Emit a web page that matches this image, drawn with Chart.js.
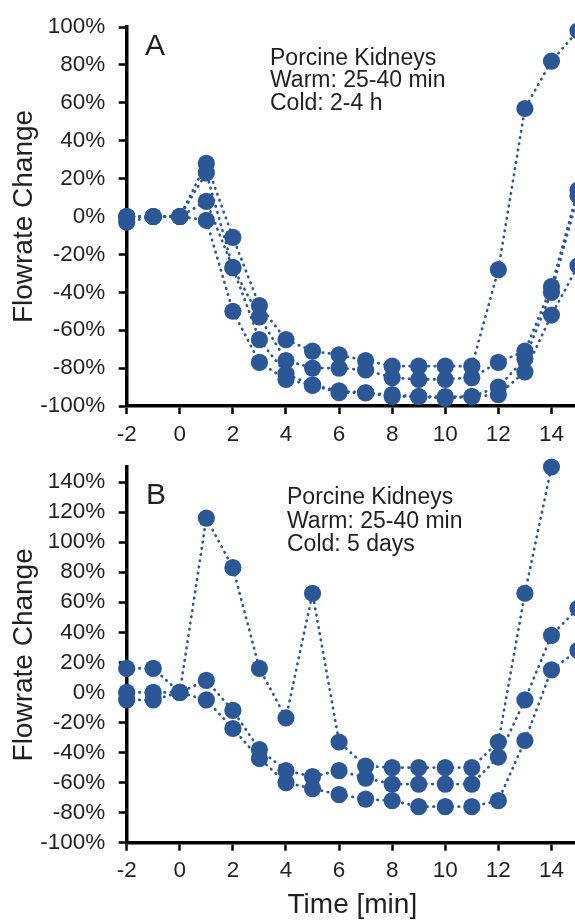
<!DOCTYPE html>
<html>
<head>
<meta charset="utf-8">
<script src="https://cdn.jsdelivr.net/npm/chart.js@4"></script>
<style>
  html, body { margin: 0; padding: 0; background: #fff; overflow: hidden; }
  body { width: 575px; height: 922px; position: relative; }
  canvas { position: absolute; left: 0; }
  #chartA { top: 0; }
  #chartB { top: 440px; }
</style>
</head>
<body>
<canvas id="chartA" width="590" height="460"></canvas>
<canvas id="chartB" width="590" height="482"></canvas>
<script>
  // time points (min) shared by both panels
  const TIME = [-2, -1, 0, 1, 2, 3, 4, 5, 6, 7, 8, 9, 10, 11, 12, 13, 14, 15];
  const TIME_TICKS = [-2, 0, 2, 4, 6, 8, 10, 12, 14];

  // panel A: warm 25-40 min, cold 2-4 h (flow change in %)
  const A_KIDNEY_1 = [0, 0, 0, 28, -11, -47, -65, -71, -73, -76, -79, -79, -79, -79, -28, 57, 82, 98];
  const A_KIDNEY_2 = [0, 0, 0, 23, -27, -53, -76, -80, -80, -81, -85, -86, -86, -85, -77, -71, -37, 14];
  const A_KIDNEY_3 = [0, 0, 0, 8, -27, -65, -83, -89, -92, -93, -94, -95, -95, -95, -90, -75, -40, 11];
  const A_KIDNEY_4 = [-3, 0, 0, -2, -50, -77, -86, -89, -93, -93, -95, -95, -96, -95, -94, -82, -52, -26];
  const A_Y_TICKS = [-100, -80, -60, -40, -20, 0, 20, 40, 60, 80, 100];

  // panel B: warm 25-40 min, cold 5 days
  const B_KIDNEY_1 = [16, 16, 0, 116, 83, 16, -17, 66, -33, -49, -50, -50, -50, -50, -33, 66, 150, null];
  const B_KIDNEY_2 = [0, 0, 0, 8, -12, -38, -52, -56, -52, -57, -61, -61, -61, -61, -43, -5, 38, 56];
  const B_KIDNEY_3 = [-5, -5, 0, -5, -24, -44, -60, -64, -68, -71, -72, -76, -76, -76, -72, -32, 15, 28];
  const B_Y_TICKS = [-100, -80, -60, -40, -20, 0, 20, 40, 60, 80, 100, 120, 140];

  const LABEL_A = 'A';
  const LABEL_B = 'B';
  const NOTE_A = ['Porcine Kidneys', 'Warm: 25-40 min', 'Cold: 2-4 h'];
  const NOTE_B = ['Porcine Kidneys', 'Warm: 25-40 min', 'Cold: 5 days'];

  const BLUE = '#2c5797';
  const INK = '#231f20';
  const FONT = "'Liberation Sans', Arial, sans-serif";

  function series(values) {
    return {
      data: TIME.map((t, i) => ({ x: t, y: values[i] })),
      borderColor: BLUE,
      backgroundColor: BLUE,
      borderWidth: 2.7,
      borderDash: [0.5, 5.8],
      borderCapStyle: 'round',
      pointRadius: 8.6,
      pointHoverRadius: 8.6,
      pointBorderWidth: 0,
      pointBackgroundColor: BLUE,
      tension: 0,
      spanGaps: false,
      clip: false
    };
  }

  // panel letter and the three-line note
  const notesPlugin = {
    id: 'notes',
    afterDraw(chart, args, opts) {
      const ctx = chart.ctx;
      ctx.save();
      ctx.fillStyle = INK;
      ctx.textAlign = 'left';
      ctx.textBaseline = 'alphabetic';
      ctx.font = `30px ${FONT}`;
      ctx.fillText(opts.letter, opts.letterX, opts.letterY);
      ctx.font = `23px ${FONT}`;
      opts.lines.forEach((line, i) => {
        ctx.fillText(line, opts.noteX, opts.noteY + i * opts.lineGap);
      });
      ctx.restore();
    }
  };

  function makeChart(id, datasets, yMin, yMax, yTicks, opts) {
    const canvas = document.getElementById(id);
    return new Chart(canvas.getContext('2d'), {
      type: 'scatter',
      data: { datasets: datasets.map(series) },
      options: {
        responsive: false,
        animation: false,
        events: [],
        showLine: true,
        layout: { padding: { top: opts.top, right: 12, left: 0, bottom: 0 } },
        plugins: {
          legend: { display: false },
          tooltip: { enabled: false },
          notes: opts.notes
        },
        scales: {
          x: {
            type: 'linear',
            min: -2,
            max: 15,
            afterBuildTicks: s => { s.ticks = TIME_TICKS.map(v => ({ value: v })); },
            afterFit: s => { s.height = canvas.height - opts.bottom; },
            grid: {
              display: true,
              drawOnChartArea: false,
              drawTicks: true,
              tickLength: 8,
              tickWidth: 2.5,
              tickColor: '#000'
            },
            border: { display: true, color: '#000', width: 3.5 },
            ticks: {
              color: INK,
              padding: 7,
              maxRotation: 0,
              autoSkip: false,
              font: { family: FONT, size: 22.5 }
            },
            title: {
              display: !!opts.xTitle,
              text: opts.xTitle || '',
              color: INK,
              padding: { top: 0, bottom: 0 },
              font: { family: FONT, size: 28 }
            }
          },
          y: {
            type: 'linear',
            min: yMin,
            max: yMax,
            afterBuildTicks: s => { s.ticks = yTicks.map(v => ({ value: v })); },
            afterFit: s => { s.width = 126.7; },
            grid: {
              display: true,
              drawOnChartArea: false,
              drawTicks: true,
              tickLength: 8,
              tickWidth: 2.5,
              tickColor: '#000'
            },
            border: { display: true, color: '#000', width: 3.5 },
            ticks: {
              color: INK,
              padding: 13.5,
              autoSkip: false,
              font: { family: FONT, size: 22.5 },
              callback: v => v + '%'
            },
            title: {
              display: true,
              text: 'Flowrate Change',
              color: INK,
              padding: { top: 7, bottom: 0 },
              font: { family: FONT, size: 28 }
            }
          }
        }
      },
      plugins: [notesPlugin]
    });
  }

  makeChart('chartA', [A_KIDNEY_1, A_KIDNEY_2, A_KIDNEY_3, A_KIDNEY_4], -100, 100, A_Y_TICKS, {
    top: 25,
    bottom: 406,
    notes: { letter: LABEL_A, letterX: 145, letterY: 55, lines: NOTE_A, noteX: 270, noteY: 65, lineGap: 22.3 }
  });

  makeChart('chartB', [B_KIDNEY_1, B_KIDNEY_2, B_KIDNEY_3], -100, 150, B_Y_TICKS, {
    top: 25,
    bottom: 402.7,
    xTitle: 'Time [min]',
    notes: { letter: LABEL_B, letterX: 146, letterY: 64, lines: NOTE_B, noteX: 287, noteY: 64.3, lineGap: 23.3 }
  });
</script>
</body>
</html>
